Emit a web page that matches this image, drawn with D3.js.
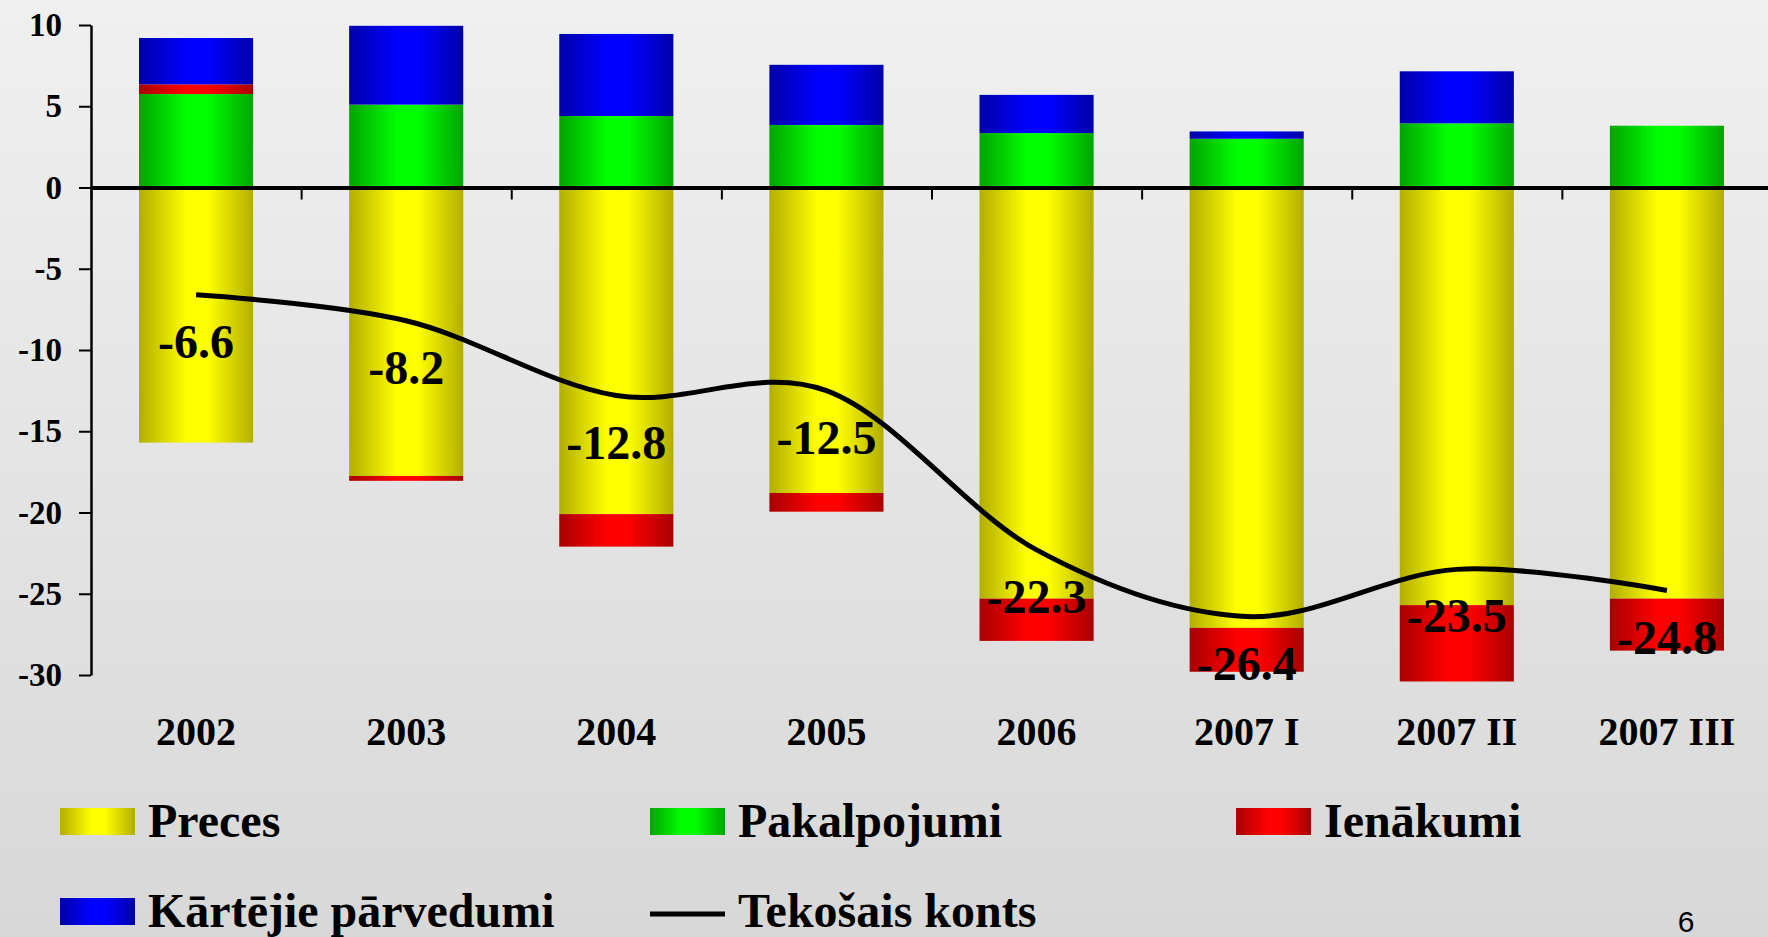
<!DOCTYPE html>
<html>
<head>
<meta charset="utf-8">
<script src="https://cdn.jsdelivr.net/npm/d3@7"></script>
<style>
  body { margin: 0; overflow: hidden; }
  svg { display: block; font-family: 'Liberation Serif', 'Times New Roman', serif; font-weight: bold; }
</style>
</head>
<body>
<script>
const periods = ['2002', '2003', '2004', '2005', '2006', '2007 I', '2007 II', '2007 III'];
const preces = [-15.7, -17.75, -20.1, -18.8, -25.3, -27.1, -25.7, -25.3];
const pakalpojumi = [5.75, 5.1, 4.4, 3.85, 3.35, 3.0, 3.95, 3.8];
const ienakumi = [0.6, -0.3, -2.0, -1.15, -2.6, -2.7, -4.7, -3.2];
const parvedumi = [2.85, 4.85, 5.05, 3.7, 2.35, 0.45, 3.2, 0];
const tekosaisKonts = [-6.6, -8.2, -12.8, -12.5, -22.3, -26.4, -23.5, -24.8];
const yTicks = [10, 5, 0, -5, -10, -15, -20, -25, -30];
const seriesNames = ['Preces', 'Pakalpojumi', 'Ienākumi', 'Kārtējie pārvedumi'];
const lineName = 'Tekošais konts';

function drawChart() {
  const width = 1768, height = 937;
  const plot = { left: 91, right: 1772, top: 25, bottom: 675 };

  const colors = {
    'Preces': ['#b2ae00', '#ffff00'],
    'Pakalpojumi': ['#00a400', '#00ff00'],
    'Ienākumi': ['#a80000', '#ff0000'],
    'Kārtējie pārvedumi': ['#0000a8', '#0000ff'],
  };

  const svg = d3.select('body')
    .append('svg')
    .attr('width', width)
    .attr('height', height);

  const defs = svg.append('defs');

  const bg = defs.append('linearGradient')
    .attr('id', 'bg')
    .attr('x1', 0).attr('y1', 0).attr('x2', 0).attr('y2', 1);
  bg.append('stop').attr('offset', 0).attr('stop-color', '#f0f0f0');
  bg.append('stop').attr('offset', 1).attr('stop-color', '#d8d8d8');

  // horizontal "cylinder" shading for each series
  seriesNames.forEach((name, i) => {
    const g = defs.append('linearGradient').attr('id', `grad${i}`);
    const [dark, bright] = colors[name];
    g.append('stop').attr('offset', 0).attr('stop-color', dark);
    g.append('stop').attr('offset', 0.42).attr('stop-color', bright);
    g.append('stop').attr('offset', 0.6).attr('stop-color', bright);
    g.append('stop').attr('offset', 1).attr('stop-color', dark);
  });

  svg.append('rect')
    .attr('width', width)
    .attr('height', height)
    .attr('fill', 'url(#bg)');

  const rows = periods.map((p, i) => ({
    period: p,
    'Preces': preces[i],
    'Pakalpojumi': pakalpojumi[i],
    'Ienākumi': ienakumi[i],
    'Kārtējie pārvedumi': parvedumi[i],
  }));

  const x = d3.scaleBand()
    .domain(periods)
    .range([plot.left, plot.right])
    .paddingInner(0.457)
    .paddingOuter(0.2285);

  const y = d3.scaleLinear()
    .domain([-30, 10])
    .range([plot.bottom, plot.top]);

  const stack = d3.stack()
    .keys(seriesNames)
    .offset(d3.stackOffsetDiverging);

  const layers = svg.append('g')
    .selectAll('g')
    .data(stack(rows))
    .enter()
    .append('g')
    .attr('fill', (d, i) => `url(#grad${i})`);

  layers.selectAll('rect')
    .data(d => d)
    .enter()
    .append('rect')
    .attr('x', d => x(d.data.period))
    .attr('width', x.bandwidth())
    .attr('y', d => y(Math.max(d[0], d[1])))
    .attr('height', d => Math.abs(y(d[0]) - y(d[1])));

  // y axis
  const yAxis = svg.append('g')
    .attr('transform', `translate(${plot.left}, 0)`)
    .call(d3.axisLeft(y)
      .tickValues(yTicks)
      .tickFormat(d => `${d}`)
      .tickSize(12)
      .tickSizeOuter(0)
      .tickPadding(17));
  yAxis.select('.domain').attr('stroke', '#000').attr('stroke-width', 2.5);
  yAxis.selectAll('.tick line').attr('stroke-width', 2);
  yAxis.selectAll('text')
    .attr('font-size', 33)
    .attr('font-family', 'Liberation Serif')
    .attr('font-weight', 'bold')
    .attr('fill', '#000');

  // zero line with category separators
  const edges = d3.scaleLinear().domain([0, periods.length]).range([plot.left, plot.right]);
  const zeroAxis = svg.append('g')
    .attr('transform', `translate(0, ${y(0)})`)
    .call(d3.axisBottom(edges).ticks(periods.length).tickFormat('').tickSize(12).tickSizeOuter(0));
  zeroAxis.select('.domain').attr('stroke-width', 4);
  zeroAxis.selectAll('.tick line').attr('stroke-width', 2);

  // category labels
  const xAxis = svg.append('g')
    .attr('transform', `translate(0, ${plot.bottom})`)
    .call(d3.axisBottom(x).tickSize(0));
  xAxis.select('.domain').remove();
  xAxis.selectAll('text')
    .attr('dy', null)
    .attr('y', 70)
    .attr('font-size', 40)
    .attr('font-family', 'Liberation Serif')
    .attr('font-weight', 'bold')
    .attr('fill', '#000');

  // current account line
  const line = d3.line()
    .x((d, i) => x(periods[i]) + x.bandwidth() / 2)
    .y(d => y(d))
    .curve(d3.curveCatmullRom.alpha(0));

  svg.append('path')
    .datum(tekosaisKonts)
    .attr('fill', 'none')
    .attr('stroke', '#000')
    .attr('stroke-width', 5)
    .attr('stroke-linejoin', 'round')
    .attr('d', line);

  svg.append('g')
    .selectAll('text')
    .data(tekosaisKonts)
    .enter()
    .append('text')
    .attr('x', (d, i) => x(periods[i]) + x.bandwidth() / 2)
    .attr('y', d => y(d) + 63)
    .attr('text-anchor', 'middle')
    .attr('font-size', 48)
    .text(d => d.toFixed(1));

  // legend
  const legendItems = seriesNames.map((name, i) => ({ name, kind: 'rect', fill: `url(#grad${i})` }))
    .concat([{ name: lineName, kind: 'line' }]);
  const colX = [60, 650, 1236];
  const rowY = [808, 898];

  const legend = svg.append('g')
    .selectAll('g')
    .data(legendItems)
    .enter()
    .append('g')
    .attr('transform', (d, i) => `translate(${colX[i % 3]}, ${rowY[Math.floor(i / 3)]})`);

  legend.filter(d => d.kind === 'rect')
    .append('rect')
    .attr('width', 75)
    .attr('height', 27)
    .attr('fill', d => d.fill);

  legend.filter(d => d.kind === 'line')
    .append('line')
    .attr('x1', 0)
    .attr('x2', 75)
    .attr('y1', 16)
    .attr('y2', 16)
    .attr('stroke', '#000')
    .attr('stroke-width', 5);

  legend.append('text')
    .attr('x', 88)
    .attr('y', 29)
    .attr('font-size', 48)
    .text(d => d.name);

  // slide number
  svg.append('text')
    .attr('x', 1686)
    .attr('y', 932)
    .attr('text-anchor', 'middle')
    .attr('font-family', 'Liberation Sans, Arial, sans-serif')
    .attr('font-weight', 'normal')
    .attr('font-size', 30)
    .text('6');
}

drawChart();
</script>
</body>
</html>
